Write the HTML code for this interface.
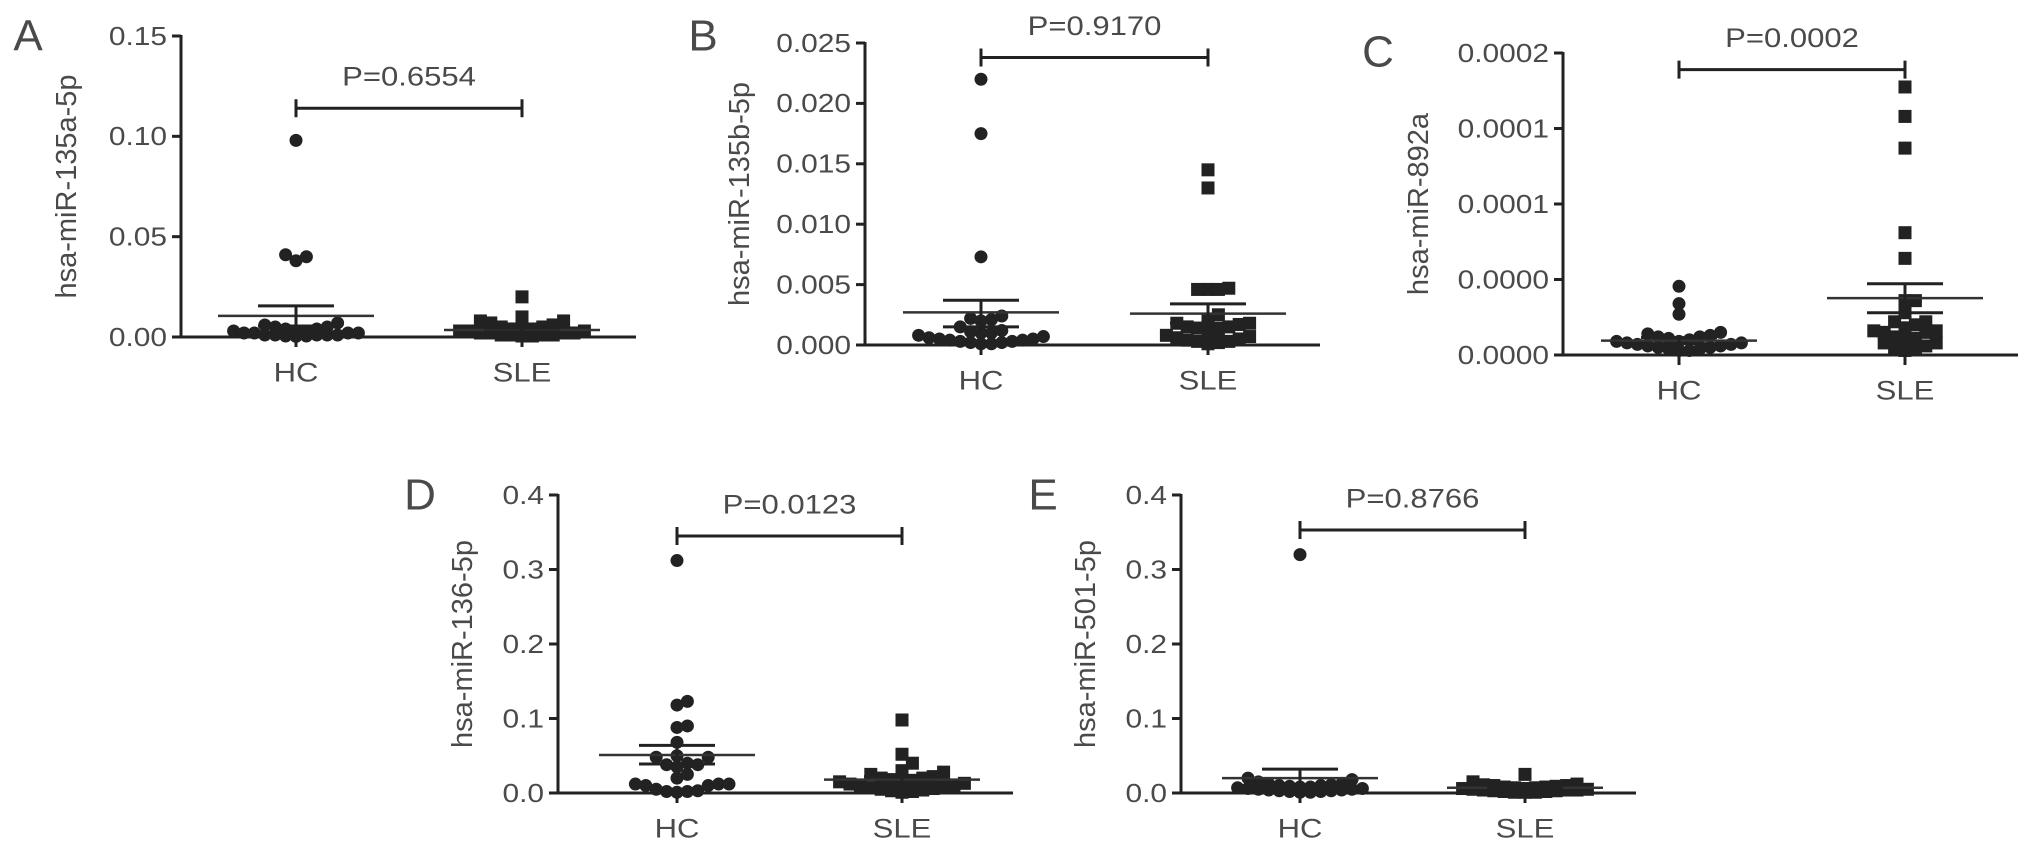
<!DOCTYPE html>
<html><head><meta charset="utf-8"><style>
html,body{margin:0;padding:0;background:#fff;}
svg{display:block;}
text{font-family:"Liberation Sans",sans-serif;fill:#4a4a4a;}
</style></head><body>
<svg id="fig" width="2032" height="855" viewBox="0 0 2032 855" xmlns="http://www.w3.org/2000/svg"></svg>
<script>
// ---- data ----
const groups = ["HC", "SLE"];
const aHC = [0.098,0.041,0.040,0.038,0.007,0.006,0.005,0.005,0.004,0.004,0.003,0.003,0.003,0.002,0.002,0.002,0.002,0.001,0.001,0.001,0.001,0.001,0.0005,0.0005,0.0003];
const aSLE = [0.020,0.010,0.008,0.008,0.007,0.006,0.006,0.005,0.005,0.004,0.004,0.004,0.003,0.003,0.003,0.002,0.002,0.002,0.002,0.001,0.001,0.001,0.001,0.0005,0.0005];
const aMean = [0.0105, 0.0035];
const aSemHi = [0.0155, 0.0045];
const aSemLo = [0.0055, 0.0025];
const bHC = [0.022,0.0175,0.0073,0.0024,0.0022,0.0021,0.002,0.0015,0.0012,0.0011,0.001,0.001,0.0008,0.0007,0.0006,0.0005,0.0005,0.0004,0.0004,0.0003,0.0003,0.0002,0.0002,0.0001,0.0001];
const bSLE = [0.0145,0.013,0.0047,0.0046,0.0046,0.0046,0.0025,0.002,0.0018,0.0018,0.0017,0.0015,0.0015,0.0014,0.0012,0.001,0.0008,0.0007,0.0006,0.0005,0.0004,0.0003,0.0003,0.0002,0.0001];
const bMean = [0.0027, 0.0026];
const bSemHi = [0.0037, 0.0034];
const bSemLo = [0.0015, 0.0018];
const cHC = [0.0000455,0.000034,0.000027,0.000015,0.000014,0.000013,0.000012,0.000012,0.000011,0.00001,0.00001,0.000009,0.000009,0.000008,0.000008,0.000007,0.000007,0.000006,0.000006,0.000005,0.000005,0.000004,0.000004,0.000003,0.000003];
const cSLE = [0.0001775,0.000158,0.000137,0.000081,0.000064,0.000036,0.000036,0.000028,0.000022,0.000022,0.00002,0.000018,0.000016,0.000016,0.000015,0.000015,0.000012,0.000011,0.00001,0.000008,0.000008,0.000006,0.000005,0.000004,0.000003];
const cMean = [0.0000095, 0.0000377];
const cSemHi = [0.0000115, 0.0000472];
const cSemLo = [0.0000075, 0.000028];
const dHC = [0.312,0.123,0.118,0.09,0.088,0.068,0.05,0.048,0.048,0.04,0.038,0.038,0.035,0.025,0.02,0.012,0.012,0.012,0.01,0.01,0.005,0.003,0.002,0.002,0.001];
const dSLE = [0.098,0.052,0.04,0.03,0.028,0.025,0.022,0.02,0.02,0.018,0.017,0.015,0.015,0.013,0.012,0.01,0.01,0.008,0.007,0.006,0.005,0.004,0.003,0.002,0.001];
const dMean = [0.051, 0.018];
const dSemHi = [0.064, 0.022];
const dSemLo = [0.039, 0.014];
const eHC = [0.32,0.02,0.018,0.015,0.012,0.012,0.011,0.01,0.01,0.009,0.008,0.008,0.007,0.006,0.006,0.005,0.005,0.004,0.004,0.003,0.003,0.002,0.002,0.001,0.001];
const eSLE = [0.025,0.015,0.012,0.011,0.01,0.01,0.009,0.008,0.008,0.007,0.007,0.006,0.006,0.005,0.005,0.004,0.004,0.004,0.003,0.003,0.002,0.002,0.001,0.001,0.001];
const eMean = [0.02, 0.007];
const eSemHi = [0.032, 0.009];
const eSemLo = [0.008, 0.005];
const aTicks = [0, 0.05, 0.10, 0.15];
const aTickLabels = ["0.00","0.05","0.10","0.15"];
const bTicks = [0, 0.005, 0.010, 0.015, 0.020, 0.025];
const bTickLabels = ["0.000","0.005","0.010","0.015","0.020","0.025"];
const cTicks = [0, 0.00005, 0.0001, 0.00015, 0.0002];
const cTickLabels = ["0.0000","0.0000","0.0001","0.0001","0.0002"];
const dTicks = [0, 0.1, 0.2, 0.3, 0.4];
const dTickLabels = ["0.0","0.1","0.2","0.3","0.4"];
const eTicks = [0, 0.1, 0.2, 0.3, 0.4];
const eTickLabels = ["0.0","0.1","0.2","0.3","0.4"];
const pValues = ["P=0.6554","P=0.9170","P=0.0002","P=0.0123","P=0.8766"];
const titles = ["hsa-miR-135a-5p","hsa-miR-135b-5p","hsa-miR-892a","hsa-miR-136-5p","hsa-miR-501-5p"];
const bracketValues = [0.114, 0.0238, 0.000189, 0.345, 0.353];

// ---- layout ----
const panels = [
 {id:"a",letter:"A",ax:181,top:36,zero:337,xend:636,hc:296,sle:522,max:0.15,lx:28,ly:36,tx:67,hc_d:aHC,sle_d:aSLE,mean:aMean,hi:aSemHi,lo:aSemLo,ticks:aTicks,tl:aTickLabels},
 {id:"b",letter:"B",ax:865,top:43,zero:345,xend:1320,hc:981,sle:1208,max:0.025,lx:703,ly:36,tx:740,hc_d:bHC,sle_d:bSLE,mean:bMean,hi:bSemHi,lo:bSemLo,ticks:bTicks,tl:bTickLabels},
 {id:"c",letter:"C",ax:1563,top:53,zero:355,xend:2018,hc:1679,sle:1905,max:0.0002,lx:1378,ly:52,tx:1419,hc_d:cHC,sle_d:cSLE,mean:cMean,hi:cSemHi,lo:cSemLo,ticks:cTicks,tl:cTickLabels},
 {id:"d",letter:"D",ax:558,top:495,zero:793,xend:1013,hc:677,sle:902,max:0.4,lx:420,ly:495,tx:463,hc_d:dHC,sle_d:dSLE,mean:dMean,hi:dSemHi,lo:dSemLo,ticks:dTicks,tl:dTickLabels},
 {id:"e",letter:"E",ax:1181,top:495,zero:793,xend:1636,hc:1300,sle:1525,max:0.4,lx:1043,ly:495,tx:1086,hc_d:eHC,sle_d:eSLE,mean:eMean,hi:eSemHi,lo:eSemLo,ticks:eTicks,tl:eTickLabels}
];
const NS = "http://www.w3.org/2000/svg";
const svg = document.getElementById("fig");
function mk(tag, attrs, parent){
  const el = document.createElementNS(NS, tag);
  for (const k in attrs) el.setAttribute(k, attrs[k]);
  (parent||svg).appendChild(el);
  return el;
}
function txt(parent, str, x, y, size, anchor, sx){
  const g = mk("g", {transform:`translate(${x},${y}) scale(${sx||1.15},1)`}, parent);
  const t = mk("text", {x:0, y:0, "font-size":size, "text-anchor":anchor||"middle", "dominant-baseline":"central"}, g);
  t.textContent = str;
  return t;
}
function swarm(vals, cx, yf, r){
  const placed = [];
  const sorted = vals.map((v,i)=>({v,i})).sort((a,b)=>a.v-b.v);
  const out = [];
  const step = r*1.6, maxK = Math.floor(72/step)*2;
  let cyc = 0;
  for (const p of sorted){
    const y = yf(p.v);
    let best = null;
    for (let k=0;k<=maxK;k++){
      const off = k===0?0:(k%2?1:-1)*Math.ceil(k/2)*step;
      const x = cx + off;
      if (!placed.some(q=>Math.hypot(q.x-x,q.y-y)<r*1.5)){ best = x; break; }
    }
    if (best===null){
      const k = (cyc++ % (maxK+1));
      best = cx + (k===0?0:(k%2?1:-1)*Math.ceil(k/2)*step);
    }
    placed.push({x:best,y});
    out.push({x:best,y,v:p.v});
  }
  return out;
}
panels.forEach((P, pi)=>{
  const g = mk("g", {});
  
  
  const y = v => P.zero - (v / P.max) * (P.zero - P.top);
  const gx = [P.hc, P.sle];
  const L = txt(g, P.letter, P.lx, P.ly, 44, "middle", 1);
  
  
  L.setAttribute('fill', '#222');
  const tg = mk("g", {transform:`translate(${P.tx},${(P.top+P.zero)/2}) rotate(-90)`}, g);
  const T = mk("text", {x:0,y:0,"font-size":29,"text-anchor":"middle","dominant-baseline":"central"}, tg);
  T.textContent = titles[pi];
  
  
  const ya = mk("line", {x1:P.ax,y1:P.top-1,x2:P.ax,y2:P.zero,stroke:"#222","stroke-width":3}, g);
  
  
  const xa = mk("line", {x1:P.ax-8,y1:P.zero,x2:P.xend,y2:P.zero,stroke:"#222","stroke-width":3}, g);
  
  
  P.ticks.forEach((tv, ti)=>{
    mk("line", {x1:P.ax-9,y1:y(tv),x2:P.ax,y2:y(tv),stroke:"#222","stroke-width":3}, g);
    const tl = txt(g, P.tl[ti], P.ax-14, y(tv), 26, "end");
    
    
  });
  groups.forEach((gn, gi)=>{
    mk("line", {x1:gx[gi],y1:P.zero,x2:gx[gi],y2:P.zero+10,stroke:"#222","stroke-width":3}, g);
    const xl = txt(g, gn, gx[gi], P.zero+36, 27, "middle");
    
    
    const data = gi===0 ? P.hc_d : P.sle_d;
    const pts = swarm(data, gx[gi], y, 6.5);
    pts.forEach(p=>{
      let m;
      if (gi===0) m = mk("circle", {cx:p.x, cy:p.y, r:6.5, fill:"#222"}, g);
      else m = mk("rect", {x:p.x-6.5, y:p.y-6.5, width:13, height:13, fill:"#222"}, g);
      
      
    });
    const ml = mk("line", {x1:gx[gi]-78,y1:y(P.mean[gi]),x2:gx[gi]+78,y2:y(P.mean[gi]),stroke:"#333","stroke-width":2.5}, g);
    
    
    const sh = mk("line", {x1:gx[gi]-38,y1:y(P.hi[gi]),x2:gx[gi]+38,y2:y(P.hi[gi]),stroke:"#222","stroke-width":3}, g);
    
    
    const sl = mk("line", {x1:gx[gi]-38,y1:y(P.lo[gi]),x2:gx[gi]+38,y2:y(P.lo[gi]),stroke:"#222","stroke-width":3}, g);
    
    
    mk("line", {x1:gx[gi],y1:y(P.lo[gi]),x2:gx[gi],y2:y(P.hi[gi]),stroke:"#222","stroke-width":3}, g);
  });
  const by = y(bracketValues[pi]);
  const br = mk("path", {d:`M${P.hc},${by-9}V${by+9}M${P.hc},${by}H${P.sle}M${P.sle},${by-9}V${by+9}`, stroke:"#222","stroke-width":3, fill:"none"}, g);
  
  
  const pt = txt(g, pValues[pi], (P.hc+P.sle)/2, by-31, 27, "middle");
  
  
});
</script>
</body></html>
